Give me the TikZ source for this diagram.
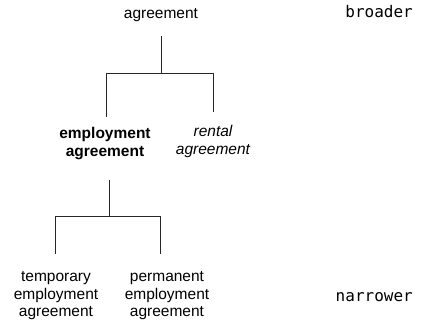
\documentclass[tikz,border=0pt]{standalone}
\usepackage{fontspec}
\setmainfont{Liberation Sans}
\newfontfamily\monof{DejaVu Sans Mono}
\newcommand{\mlines}[1]{\begin{tabular}[t]{@{}c@{}}#1\end{tabular}}
\begin{document}
\begin{tikzpicture}[x=1pt,y=-1pt,
  lbl/.style={inner sep=0pt,anchor=base,font=\fontsize{15.5}{17.6}\selectfont},
  mono/.style={inner sep=0pt,anchor=base east,font=\monof\fontsize{16}{18}\selectfont},
  edge/.style={line width=1pt,black!85}]
\useasboundingbox (0,0) rectangle (424,321);
% nodes
\node[lbl] (agr) at (161,18.5) {agreement};
\node[lbl,font=\bfseries\fontsize{15.5}{17.6}\selectfont] (emp) at (105,139) {\mlines{employment\\agreement}};
\node[lbl,font=\itshape\fontsize{15.5}{17.6}\selectfont] (ren) at (213,136.5) {\mlines{rental\\agreement}};
\node[lbl] (tmp) at (56,281.5) {\mlines{temporary\\employment\\agreement}};
\node[lbl] (per) at (167,281.5) {\mlines{permanent\\employment\\agreement}};
\node[mono] (brd) at (413,17.5) {broader};
\node[mono] (nar) at (413,301.5) {narrower};
% coordinates of the tree
\coordinate (a0) at (161,36);
\coordinate (a1) at (161,74);
\coordinate (aL) at (106,74);
\coordinate (aR) at (213,74);
\coordinate (aLb) at (106,117);
\coordinate (aRb) at (213,112);
\coordinate (e0) at (109,180);
\coordinate (e1) at (109,217);
\coordinate (eL) at (55,217);
\coordinate (eR) at (160,217);
\coordinate (eLb) at (55,254);
\coordinate (eRb) at (160,254);
% connectors
\draw[edge] (a0) -- (a1);
\draw[edge] (aLb) -- (aL) -- (aR) -- (aRb);
\draw[edge] (e0) -- (e1);
\draw[edge] (eLb) -- (eL) -- (eR) -- (eRb);
\end{tikzpicture}
\end{document}
